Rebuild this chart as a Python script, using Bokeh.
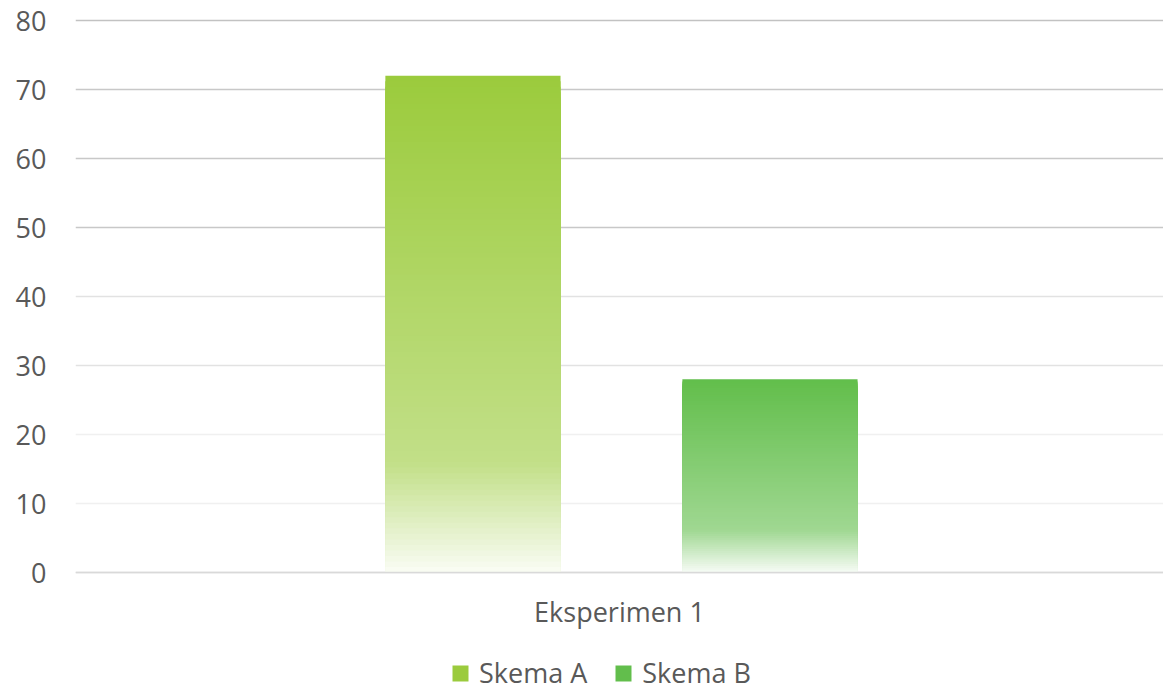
from bokeh.plotting import figure
from bokeh.models import (ColumnDataSource, FactorRange, Range1d, FixedTicker,
                          Legend, LegendItem)
from bokeh.transform import dodge
from bokeh.embed import file_html
from bokeh.resources import INLINE

# ---- data ----
categories = ["Eksperimen 1"]
series_names = ["Skema A", "Skema B"]
skema_a = [72]
skema_b = [28]
y_ticks = [0, 10, 20, 30, 40, 50, 60, 70, 80]

# ---- styles ----
base_colors = [(155, 203, 60), (98, 190, 75)]
grid_colors = ["#d9d9d9", "#f0f0f0", "#f0f0f0", "#e2e2e2", "#e2e2e2",
               "#c8c8c8", "#c8c8c8", "#c8c8c8", "#c2c2c2"]
offsets = [-0.1347, 0.1383]
bar_w = 0.161
FONT = "Open Sans"
TXT = "#595959"
FS = "27px"

def mix_white(rgb, t):
    r, g, b = (int(round(c + (255 - c) * t)) for c in rgb)
    return "#%02x%02x%02x" % (r, g, b)

def fade(f):
    # f = fraction from the top of the bar (0 top, 1 bottom)
    if f <= 0.78:
        return 0.5 * f
    return 0.39 + (f - 0.78) / 0.22 * (0.95 - 0.39)

H = 691
TOP = 18
ZERO_PX = 572
px_per_unit = (ZERO_PX - 20) / 80.0
y_max = 80 + (20 - TOP) / px_per_unit
y_min = -(H - ZERO_PX) / px_per_unit

p = figure(width=1163, height=H, x_range=FactorRange(*categories),
           y_range=Range1d(y_min, y_max), output_backend="svg", toolbar_location=None,
           min_border_left=75, min_border_right=0, min_border_top=TOP,
           min_border_bottom=0)
p.outline_line_color = None
p.xgrid.visible = False
p.ygrid.visible = False

p.hspan(y=y_ticks, line_color=grid_colors, line_width=1.5)

N = 90
renderers = []
for name, vals, rgb, off in zip(series_names, [skema_a, skema_b], base_colors, offsets):
    cats, tops, cols = [], [], []
    for c, v in zip(categories, vals):
        for i in range(N):
            f0 = i / N
            cats.append(c)
            tops.append(v * (1 - f0))
            cols.append(mix_white(rgb, fade((i + 0.5) / N)))
    src = ColumnDataSource(dict(cat=cats, top=tops, color=cols))
    r = p.vbar(x=dodge("cat", off, range=p.x_range), top="top", bottom=0,
               width=bar_w, fill_color="color", line_color=None, source=src)
    renderers.append(r)

p.yaxis.ticker = FixedTicker(ticks=y_ticks)
p.yaxis.axis_line_color = None
p.yaxis.major_tick_line_color = None
p.yaxis.major_tick_out = 0
p.yaxis.minor_tick_line_color = None
p.yaxis.major_label_text_font = FONT
p.yaxis.major_label_text_font_size = FS
p.yaxis.major_label_text_color = TXT
p.yaxis.major_label_standoff = 29

p.xaxis.fixed_location = 0
p.xaxis.axis_line_color = "#d9d9d9"
p.xaxis.axis_line_width = 1.5
p.xaxis.major_tick_line_color = None
p.xaxis.major_tick_out = 0
p.xaxis.minor_tick_line_color = None
p.xaxis.major_label_text_font = FONT
p.xaxis.major_label_text_font_size = FS
p.xaxis.major_label_text_color = TXT
p.xaxis.major_label_standoff = 20

legend = Legend(items=[LegendItem(label=n, renderers=[r], index=0)
                       for n, r in zip(series_names, renderers)],
                orientation="horizontal", location=(375, 0),
                label_text_font=FONT, label_text_font_size=FS,
                label_text_color=TXT, glyph_width=20, glyph_height=20,
                label_standoff=9, spacing=26, border_line_color=None,
                background_fill_alpha=0, margin=0, padding=0)
p.add_layout(legend, "center")

open("out.html", "w").write(file_html(p, INLINE))
